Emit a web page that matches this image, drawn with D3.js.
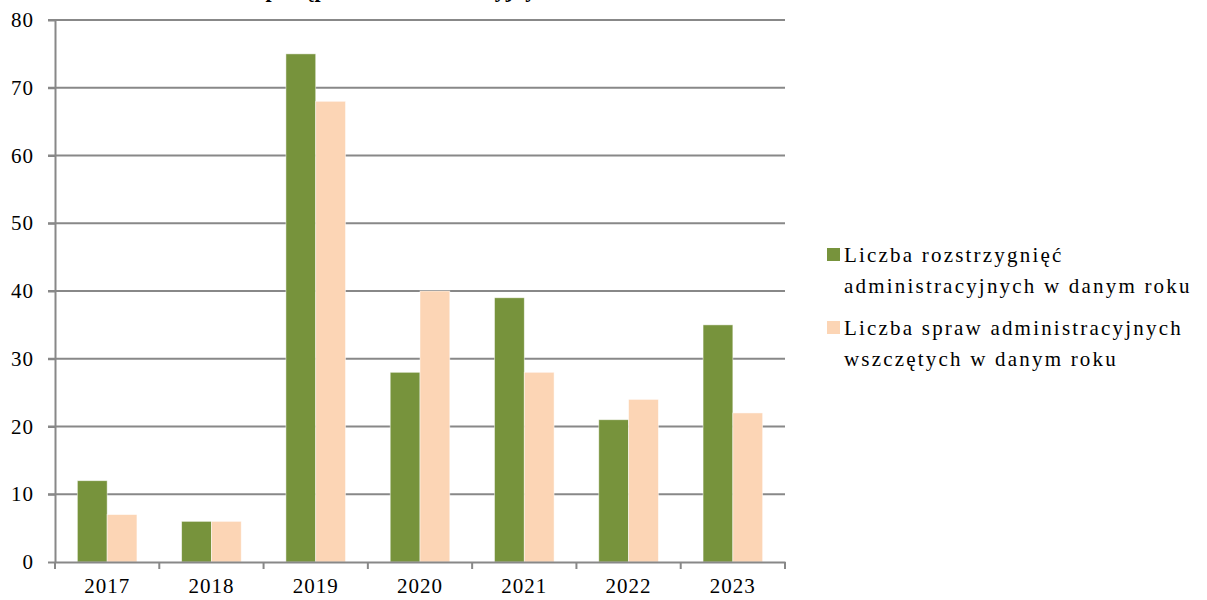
<!DOCTYPE html>
<html>
<head>
<meta charset="utf-8">
<script src="https://cdn.jsdelivr.net/npm/d3@7"></script>
<style>
  body { margin: 0; background: #fff; }
  svg { display: block; }
  text { font-family: "Liberation Serif", "Times New Roman", serif; fill: #000; }
</style>
</head>
<body>
<div id="chart"></div>
<script>
// data
var years = ["2017", "2018", "2019", "2020", "2021", "2022", "2023"];
var decisions = [12, 6, 75, 28, 39, 21, 35];   // Liczba rozstrzygnięć
var cases = [7, 6, 68, 40, 28, 24, 22];        // Liczba spraw wszczętych
var yTicks = [0, 10, 20, 30, 40, 50, 60, 70, 80];
var seriesNames = [
    ["Liczba rozstrzygnięć", "administracyjnych w danym roku"],
    ["Liczba spraw administracyjnych", "wszczętych w danym roku"]
];
var colors = ["#77933C", "#FCD5B5"];

var W = 1207, H = 600;
var margin = { top: 20, left: 55 },
    width = 730,
    height = 542;

var svg = d3.select("#chart").append("svg")
    .attr("width", W)
    .attr("height", H);

// title is mostly cut off at the top edge, only descenders show
svg.append("text")
    .attr("x", 470)
    .attr("y", -3)
    .attr("text-anchor", "middle")
    .attr("font-weight", "bold")
    .attr("font-size", 22)
    .text("Liczba postępowań administracyjnych w latach 2017-2023");

var g = svg.append("g")
    .attr("transform", `translate(${margin.left},${margin.top})`);

var x0 = d3.scaleBand()
    .domain(years)
    .range([0, width])
    .paddingInner(0.4286)
    .paddingOuter(0.2143);

var x1 = d3.scaleBand()
    .domain([0, 1])
    .range([0, x0.bandwidth()]);

var y = d3.scaleLinear()
    .domain([0, 80])
    .range([height, 0]);

// gridlines
g.append("g")
    .selectAll("line")
    .data(yTicks.slice(1))
    .enter().append("line")
    .attr("x1", -7)
    .attr("x2", width)
    .attr("y1", d => y(d))
    .attr("y2", d => y(d))
    .attr("stroke", "#888")
    .attr("stroke-width", 2);

// bars
var rows = years.map((yr, i) => ({ year: yr, vals: [decisions[i], cases[i]] }));

var grp = g.append("g")
    .selectAll("g")
    .data(rows)
    .enter().append("g")
    .attr("transform", d => `translate(${x0(d.year)},0)`);

grp.selectAll("rect")
    .data(d => d.vals)
    .enter().append("rect")
    .attr("x", (d, i) => x1(i))
    .attr("y", d => y(d))
    .attr("width", x1.bandwidth())
    .attr("height", d => height - y(d))
    .attr("fill", (d, i) => colors[i])
    .attr("stroke", "#fff")
    .attr("stroke-opacity", 0.6)
    .attr("stroke-width", 0.8);

// y axis
var yAxis = g.append("g")
    .call(d3.axisLeft(y).tickValues(yTicks).tickSize(7).tickSizeOuter(0).tickPadding(14));
yAxis.select(".domain").attr("stroke", "#888").attr("stroke-width", 2);
yAxis.selectAll(".tick line").attr("stroke", "#888").attr("stroke-width", 2);
yAxis.selectAll("text")
    .attr("font-family", "Liberation Serif")
    .attr("font-size", 21)
    .attr("letter-spacing", 1)
    .attr("fill", "#000");

// x axis
var xAxis = g.append("g")
    .attr("transform", `translate(0,${height})`)
    .call(d3.axisBottom(x0).tickSize(0).tickPadding(16));
xAxis.select(".domain").attr("stroke", "#888").attr("stroke-width", 2);
xAxis.selectAll("text")
    .attr("font-family", "Liberation Serif")
    .attr("font-size", 21)
    .attr("letter-spacing", 1)
    .attr("fill", "#000");

// category separators on the x axis
var edges = years.map(d => x0(d) - x0.step() * x0.paddingInner() / 2).concat([width]);
xAxis.selectAll(".sep")
    .data(edges)
    .enter().append("line")
    .attr("x1", d => d)
    .attr("x2", d => d)
    .attr("y1", 0)
    .attr("y2", 7)
    .attr("stroke", "#888")
    .attr("stroke-width", 2);

// legend
var legend = svg.append("g")
    .selectAll("g")
    .data(seriesNames)
    .enter().append("g")
    .attr("transform", (d, i) => `translate(827,${248 + i * 73})`);

legend.append("rect")
    .attr("width", 13)
    .attr("height", 13)
    .attr("fill", (d, i) => colors[i]);

legend.append("text")
    .attr("x", 17)
    .attr("y", 14)
    .attr("font-family", "Liberation Serif")
    .attr("font-size", 21)
    .attr("letter-spacing", 2.2)
    .selectAll("tspan")
    .data(d => d)
    .enter().append("tspan")
    .attr("x", 17)
    .attr("dy", (d, i) => i ? 31 : 0)
    .text(d => d);
</script>
</body>
</html>
